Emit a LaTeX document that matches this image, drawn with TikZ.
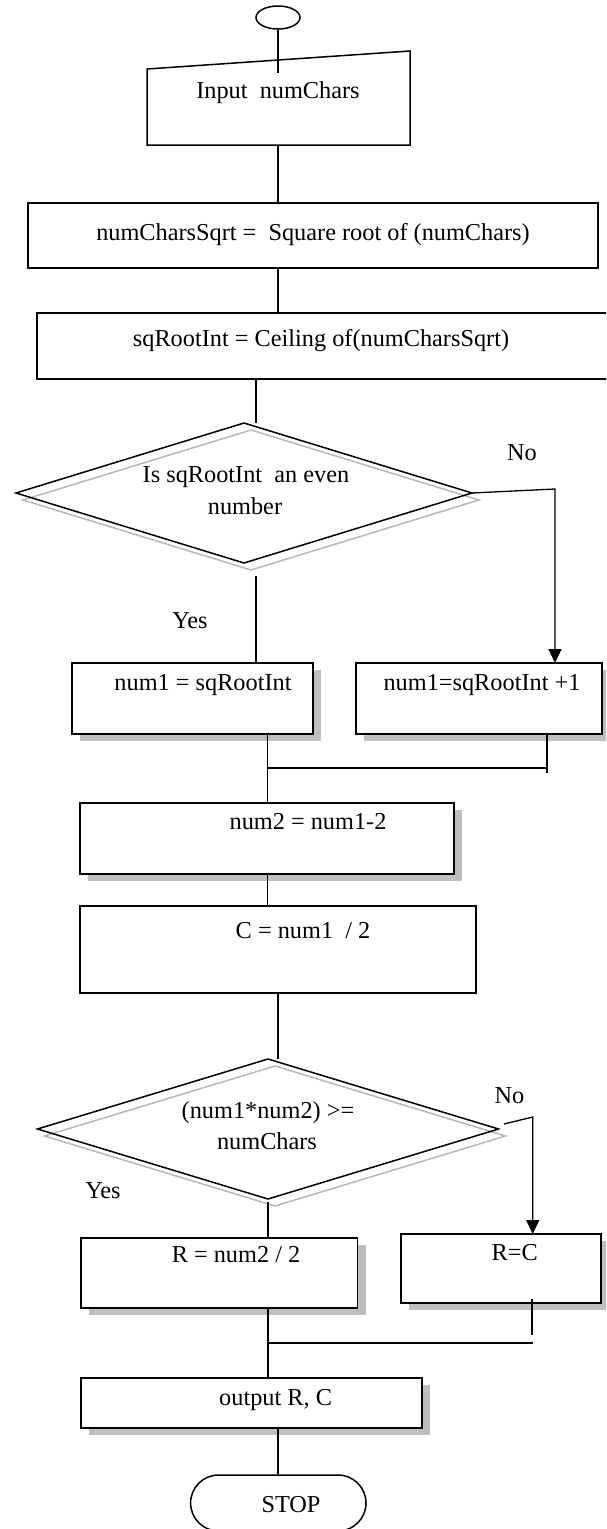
\documentclass[tikz,border=0pt]{standalone}
\usepackage{fontspec}
\setmainfont{Liberation Serif}
\usetikzlibrary{shapes.geometric,shadows,arrows.meta}
\begin{document}
\begin{tikzpicture}[x=1pt,y=-1pt,
  font=\fontsize{24.3}{28}\selectfont,
  shapeline/.style={line width=1.5pt, line join=miter},
  conn/.style={line width=1.3pt},
  box/.style={draw, line width=1.5pt, rectangle, inner sep=0pt, outer sep=0pt, fill=white},
  shbox/.style={box, drop shadow={shadow xshift=8pt, shadow yshift=-7pt, fill=black!25, opacity=1}},
  dia/.style={draw, diamond, line width=1.5pt, inner sep=0pt, outer sep=0pt},
  diash/.style={draw=black!28, diamond, line width=1.5pt, inner sep=0pt, outer sep=0pt},
  txt/.style={anchor=base, inner sep=0pt},
  arr/.style={conn, -{Triangle[length=14pt,width=13pt]}},
]
\useasboundingbox (0,0) rectangle (606,1529);
\clip (0,0) rectangle (606,1529);

% start
\node[ellipse, draw, line width=1.5pt, minimum width=44pt, minimum height=23pt, inner sep=0pt] (start) at (278,17.5) {};

% manual input
\node[minimum width=263pt, minimum height=94pt, inner sep=0pt, outer sep=0pt] (in) at (278.5,98) {};
\draw[shapeline] ([yshift=-18pt]in.north west) -- (in.north east) -- (in.south east) -- (in.south west) -- cycle;
\node[txt] (tin) at (278,98.3) {Input\ \ numChars};

% box 2, box 3
\node[box, minimum width=570pt, minimum height=65pt] (b2) at (313,235.5) {};
\node[txt] (t2) at (313,240) {numCharsSqrt =\ \ Square root of (numChars)};
\node[box, minimum width=583pt, minimum height=66pt] (b3) at (328.5,346) {};
\node[txt] (t3) at (321,346) {sqRootInt = Ceiling of(numCharsSqrt)};

% decision 1
\node[diash, minimum width=456pt, minimum height=140pt] (d1s) at (251,500) {};
\node[dia, minimum width=456pt, minimum height=140pt] (d1) at (244,493) {};
\node[txt] (td1a) at (246,482.7) {Is sqRootInt\ \ an even};
\node[txt] (td1b) at (245,514) {number};
\node[txt] (no1t) at (522,460) {No};
\node[txt] (yes1t) at (190,628) {Yes};

% num1 boxes
\node[shbox, minimum width=241pt, minimum height=71pt] (by) at (192.5,698.5) {};
\node[txt] (tby) at (203,690) {num1 = sqRootInt};
\node[shbox, minimum width=246pt, minimum height=71pt] (bn) at (479,698.5) {};
\node[txt] (tbn) at (482,690) {num1=sqRootInt +1};

% num2, C
\node[shbox, minimum width=374pt, minimum height=71pt] (bn2) at (267,838.5) {};
\node[txt] (tbn2) at (308,829) {num2 = num1-2};
\node[box, minimum width=396pt, minimum height=87pt] (bc) at (278,949.5) {};
\node[txt] (tbc) at (303,938) {C = num1\ \ / 2};

% decision 2
\node[diash, minimum width=461pt, minimum height=140pt] (d2s) at (275,1136) {};
\node[dia, minimum width=461pt, minimum height=140pt] (d2) at (268,1129) {};
\node[txt] (td2a) at (268,1118) {(num1*num2) >=};
\node[txt] (td2b) at (267,1149) {numChars};
\node[txt] (no2t) at (509.5,1103) {No};
\node[txt] (yes2t) at (103,1198) {Yes};

% R boxes
\node[shbox, minimum width=276.5pt, minimum height=70pt] (br) at (219.25,1273) {};
\node[txt] (tbr) at (236,1262) {R = num2 / 2};
\node[shbox, minimum width=200pt, minimum height=69pt] (brc) at (501,1268.5) {};
\node[txt] (tbrc) at (514.7,1260) {R=C};

% output
\node[shbox, minimum width=341pt, minimum height=50pt] (bo) at (251.5,1403) {};
\node[txt] (tbo) at (275.6,1405) {output R, C};

% stop
\node[draw, line width=1.5pt, rounded corners=28pt, minimum width=175.4pt, minimum height=56pt, inner sep=0pt] (stop) at (278.3,1503) {};
\node[txt] (tstop) at (291,1512) {STOP};

% connectors
\coordinate (sx) at (278,0);
\coordinate (sx2) at (256,0);
\coordinate (inTop) at (278,73);
\draw[conn] (start.south) -- (inTop);
\draw[conn] (in.south -| sx) -- (b2.north -| sx);
\draw[conn] (b2.south -| sx) -- (b3.north -| sx);
\draw[conn] (b3.south -| sx2) -- (d1.north -| sx2);

\coordinate (no1) at (555,489);
\draw[arr] (d1.east) -- (no1) -- (bn.north -| no1);
\coordinate (yes1) at (256,576);
\draw[conn] (yes1) -- (by.north -| yes1);

\coordinate (m1) at (267.5,768);
\coordinate (m2) at (547,768);
\coordinate (m2end) at (547,773);
\draw[conn] (by.south -| m1) -- (bn2.north -| m1);
\draw[conn] (bn.south -| m2) -- (m2end);
\draw[conn] (m1) -- (m2);
\draw[conn] (bn2.south -| m1) -- (bc.north -| m1);
\draw[conn] (bc.south -| sx) -- (d2.north -| sx);

\coordinate (no2a) at (504,1124);
\coordinate (no2b) at (532.7,1117);
\draw[arr] (no2a) -- (no2b) -- (brc.north -| no2b);
\coordinate (yes2) at (268,1202);
\draw[conn] (yes2) -- (br.north -| yes2);
\draw[conn] (br.south -| yes2) -- (bo.north -| yes2);

\coordinate (rc1) at (532,1299);
\coordinate (rc2) at (532,1335);
\draw[conn] (rc1) -- (rc2);
\coordinate (h2) at (533,1343);
\draw[conn] (h2 -| yes2) -- (h2);
\draw[conn] (bo.south -| sx) -- (stop.north -| sx);
\end{tikzpicture}
\end{document}
